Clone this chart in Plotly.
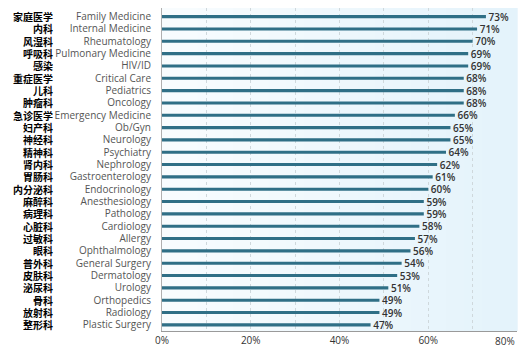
import plotly.graph_objects as go

english = ["Family Medicine", "Internal Medicine", "Rheumatology", "Pulmonary Medicine", "HIV/ID",
           "Critical Care", "Pediatrics", "Oncology", "Emergency Medicine", "Ob/Gyn", "Neurology",
           "Psychiatry", "Nephrology", "Gastroenterology", "Endocrinology", "Anesthesiology",
           "Pathology", "Cardiology", "Allergy", "Ophthalmology", "General Surgery", "Dermatology",
           "Urology", "Orthopedics", "Radiology", "Plastic Surgery"]
chinese = ["家庭医学", "内科", "风湿科", "呼吸科", "感染", "重症医学", "儿科", "肿瘤科", "急诊医学",
           "妇产科", "神经科", "精神科", "肾内科", "胃肠科", "内分泌科", "麻醉科", "病理科", "心脏科",
           "过敏科", "眼科", "普外科", "皮肤科", "泌尿科", "骨科", "放射科", "整形科"]
values = [73, 71, 70, 69, 69, 68, 68, 68, 66, 65, 65, 64, 62, 61, 60, 59, 59, 58, 57, 56, 54, 53, 51, 49, 49, 47]
xticks = [0, 20, 40, 60, 80]
xticklabels = ["0%", "20%", "40%", "60%", "80%"]

fig = go.Figure()
fig.add_trace(go.Bar(
    y=english, x=values, orientation="h", width=0.25,
    marker=dict(color="#2f6f86", line=dict(width=0)),
    text=[f"\u00a0{v}%" for v in values], textposition="outside", cliponaxis=False,
    constraintext="none",
    textfont=dict(family="Open Sans", size=10, color="#333333", weight=600),
    hoverinfo="skip",
))

# background gradient strips
n = 20
shapes = []
c0 = (248, 252, 254)
c1 = (228, 243, 251)
for i in range(n):
    t = i / (n - 1)
    col = tuple(round(c0[k] + (c1[k] - c0[k]) * t) for k in range(3))
    shapes.append(dict(type="rect", xref="x domain", yref="y domain", x0=i / n, x1=(i + 1) / n + 0.002,
                       y0=0, y1=1, fillcolor=f"rgb{col}", line=dict(width=0), layer="below"))

annotations = []
for c, e in zip(chinese, english):
    annotations.append(dict(text=c, x=-0.302, xref="paper", y=e, yref="y", xanchor="right",
                            yanchor="middle", showarrow=False,
                            font=dict(family="Noto Sans CJK SC", size=10, color="#000000", weight="bold")))
annotations.append(dict(text=xticklabels[-1], x=1.0, xref="paper", y=0, yref="paper", yshift=-1,
                        xanchor="right", yanchor="top", showarrow=False,
                        font=dict(family="Open Sans", size=10, color="#333333")))

fig.update_layout(
    width=522, height=352,
    margin=dict(l=162, r=5, t=8, b=21),
    paper_bgcolor="white", plot_bgcolor="rgba(0,0,0,0)",
    showlegend=False, shapes=shapes, annotations=annotations,
    bargap=0.5,
)
fig.update_xaxes(range=[0, 80], tickvals=xticks, ticktext=xticklabels[:-1] + [""],
                 showgrid=True, gridcolor="#cfd8dc", griddash="dot", gridwidth=1,
                 minor=dict(dtick=10, showgrid=True, gridcolor="#cfd8dc", griddash="dot"),
                 zeroline=False, showline=True, linecolor="#9a9a9a", linewidth=1,
                 tickfont=dict(family="Open Sans", size=10, color="#333333"), ticks="",
                 fixedrange=True)
fig.update_yaxes(range=[25.5, -0.7], autorange=False, categoryorder="array", categoryarray=english,
                 showgrid=False, showline=True, linecolor="#b0b0b0", linewidth=1,
                 tickfont=dict(family="Open Sans", size=10, color="#555555"), ticks="",
                 ticklabelstandoff=8, fixedrange=True)

fig.write_html("out.html")
